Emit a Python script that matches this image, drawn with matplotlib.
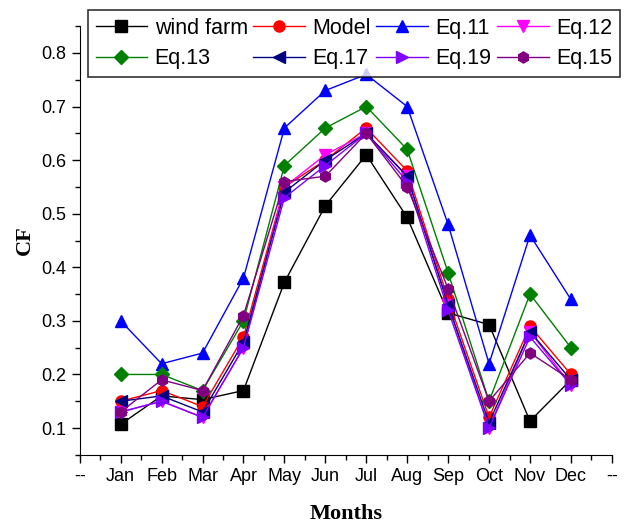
import matplotlib
matplotlib.use('Agg')
import matplotlib.pyplot as plt
from matplotlib.ticker import MultipleLocator

months = ['Jan', 'Feb', 'Mar', 'Apr', 'May', 'Jun', 'Jul', 'Aug', 'Sep', 'Oct', 'Nov', 'Dec']
x = list(range(1, 13))

wind_farm = [0.107, 0.160, 0.153, 0.170, 0.372, 0.515, 0.610, 0.493, 0.315, 0.293, 0.113, 0.190]
model = [0.150, 0.170, 0.140, 0.270, 0.550, 0.600, 0.660, 0.580, 0.340, 0.120, 0.290, 0.200]
eq11 = [0.300, 0.220, 0.240, 0.380, 0.660, 0.730, 0.760, 0.700, 0.480, 0.220, 0.460, 0.340]
eq12 = [0.130, 0.150, 0.120, 0.250, 0.550, 0.610, 0.650, 0.570, 0.330, 0.100, 0.280, 0.180]
eq13 = [0.200, 0.200, 0.170, 0.300, 0.590, 0.660, 0.700, 0.620, 0.390, 0.150, 0.350, 0.250]
eq17 = [0.150, 0.160, 0.130, 0.260, 0.540, 0.600, 0.650, 0.570, 0.330, 0.110, 0.280, 0.190]
eq19 = [0.130, 0.150, 0.120, 0.250, 0.530, 0.590, 0.650, 0.560, 0.320, 0.100, 0.270, 0.180]
eq15 = [0.130, 0.190, 0.170, 0.310, 0.560, 0.570, 0.650, 0.550, 0.360, 0.150, 0.240, 0.190]

series = [
    ('wind farm', wind_farm, 'black', 's'),
    ('Model', model, 'red', 'o'),
    ('Eq.11', eq11, 'blue', '^'),
    ('Eq.12', eq12, 'magenta', 'v'),
    ('Eq.13', eq13, 'green', 'D'),
    ('Eq.17', eq17, 'navy', '<'),
    ('Eq.19', eq19, '#8000ff', '>'),
    ('Eq.15', eq15, 'purple', 'h'),
]

plt.rcParams['font.family'] = ['Liberation Sans', 'DejaVu Sans']

fig = plt.figure(figsize=(6.38, 5.24), dpi=100)
ax = fig.add_axes([0.125, 0.132, 0.834, 0.818])

for label, vals, color, marker in series:
    ms = 7 if marker == 'D' else 8
    ax.plot(x, vals, color=color, marker=marker, markersize=ms, linewidth=1.0, label=label)

ax.set_xlim(0, 13)
ax.set_ylim(0.05, 0.85)
ax.set_xticks(range(0, 14))
ax.set_xticklabels(['--'] + months + ['--'], fontsize=13)
ax.xaxis.set_minor_locator(MultipleLocator(0.5))
ax.yaxis.set_minor_locator(MultipleLocator(0.05))
ax.set_yticks([0.1, 0.2, 0.3, 0.4, 0.5, 0.6, 0.7, 0.8])
ax.tick_params(axis='y', labelsize=13)
ax.tick_params(which='major', length=6, width=1)
ax.tick_params(which='minor', length=3.5, width=1)
ax.spines['top'].set_visible(False)
ax.spines['right'].set_visible(False)
ax.set_xlabel('Months', fontsize=16, fontweight='bold', family='Liberation Serif', labelpad=14)
ax.set_ylabel('CF', fontsize=16, fontweight='bold', family='Liberation Serif', labelpad=5)

# legend reads row by row in the original
handles, labels = ax.get_legend_handles_labels()
order = [0, 4, 1, 5, 2, 6, 3, 7]
leg = ax.legend([handles[i] for i in order], [labels[i] for i in order],
                ncol=4, loc='upper left', bbox_to_anchor=(88 / 638, 1 - 10 / 524),
                bbox_transform=fig.transFigure, fontsize=15.5, handlelength=2.4,
                handletextpad=0.35, columnspacing=0.25, borderpad=0.35, labelspacing=0.45,
                frameon=True, fancybox=False, borderaxespad=0)
leg.get_frame().set_edgecolor('black')
leg.get_frame().set_linewidth(1.2)

plt.savefig('out.png', dpi=100)
